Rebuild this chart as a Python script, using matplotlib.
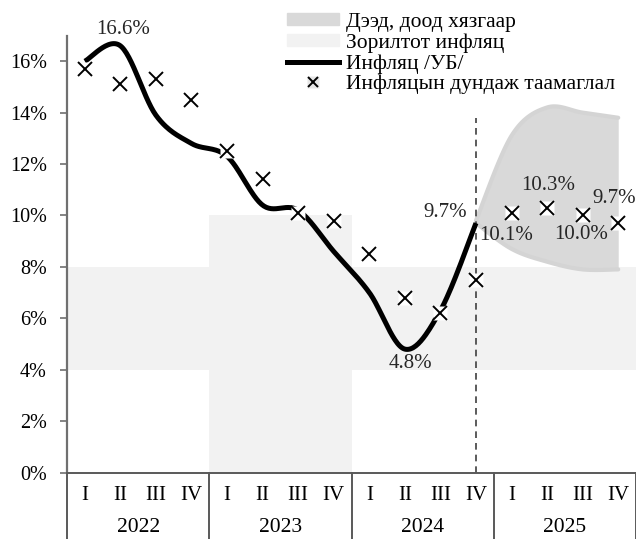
import numpy as np
import matplotlib
matplotlib.use("Agg")
import matplotlib.pyplot as plt
import matplotlib.transforms as mtransforms
from matplotlib.patches import Patch
from matplotlib.lines import Line2D

plt.rcParams["font.family"] = ["Liberation Serif", "DejaVu Serif"]
plt.rcParams["font.size"] = 14.5

# Data
years = ["2022", "2023", "2024", "2025"]
quarters = ["I", "II", "III", "IV"]
inflation_ub = [16.0, 16.6, 13.9, 12.8, 12.3, 10.4, 10.2, 8.6, 7.0, 4.8, 6.3, 9.7]
forecast_avg = [15.7, 15.1, 15.3, 14.5, 12.5, 11.4, 10.1, 9.8, 8.5, 6.8, 6.2, 7.5,
                10.1, 10.3, 10.0, 9.7]
band_x = [11, 12, 13, 14, 15]
band_upper = [9.8, 13.1, 14.2, 14.0, 13.8]
band_lower = [9.7, 8.7, 8.2, 7.9, 7.9]
target_low = [4, 0, 4, 4]
target_high = [8, 10, 8, 8]

# (index, value, text, dx, dy) data labels, offsets in points
labels = [(1, 16.6, "16.6%", 2, 12), (11, 9.7, "9.7%", -22, 8), (9, 4.8, "4.8%", 4, -10),
          (12, 10.1, "10.1%", -4, -16), (13, 10.3, "10.3%", 1, 16),
          (14, 10.0, "10.0%", -1, -14), (15, 9.7, "9.7%", -3, 18)]


def smooth(xs, ys, n=30):
    # Excel-like smoothed line (cubic Bezier through points)
    xs = np.asarray(xs, float)
    ys = np.asarray(ys, float)
    px = np.concatenate([[xs[0]], xs, [xs[-1]]])
    py = np.concatenate([[ys[0]], ys, [ys[-1]]])
    ox, oy = [], []
    t = np.linspace(0, 1, n)
    for i in range(1, len(px) - 2):
        p0 = np.array([px[i], py[i]])
        p3 = np.array([px[i + 1], py[i + 1]])
        c1 = p0 + (p3 - np.array([px[i - 1], py[i - 1]])) / 6
        c2 = p3 - (np.array([px[i + 2], py[i + 2]]) - p0) / 6
        b = ((1 - t) ** 3)[:, None] * p0 + (3 * (1 - t) ** 2 * t)[:, None] * c1 \
            + (3 * (1 - t) * t ** 2)[:, None] * c2 + (t ** 3)[:, None] * p3
        ox.extend(b[:, 0])
        oy.extend(b[:, 1])
    return np.array(ox), np.array(oy)


fig = plt.figure(figsize=(6.36, 5.39), dpi=100)
ax = fig.add_axes([67 / 636, 66.5 / 539, 569 / 636, 437 / 539])
ax.set_xlim(-0.5, 15.5)
ax.set_ylim(0, 17)

# target band per year
for i in range(len(years)):
    ax.fill_between([i * 4 - 0.5, i * 4 + 3.5], target_low[i], target_high[i],
                    color="#f2f2f2", lw=0, zorder=0)

# upper / lower limits
ux, uy = smooth(band_x, band_upper)
lx, ly = smooth(band_x, band_lower)
ax.fill_between(ux, uy, ly, color="#d9d9d9", lw=0, zorder=1)
ax.plot(ux, uy, color="#d4d4d4", lw=3, zorder=1, solid_capstyle="round")
ax.plot(lx, ly, color="#d4d4d4", lw=3, zorder=1, solid_capstyle="round")

# inflation line
ix, iy = smooth(range(len(inflation_ub)), inflation_ub)
ax.plot(ix, iy, color="black", lw=3.6, zorder=3, solid_capstyle="butt")

# forecast markers
xq = np.arange(len(forecast_avg))
ax.plot(xq, forecast_avg, ls="none", marker="s", ms=10, mfc="white", mec="none", zorder=4)
ax.plot(xq, forecast_avg, ls="none", marker="x", ms=10, mew=1.4, color="black", zorder=5)

# dashed separator at last actual
ax.plot([11, 11], [0, 13.8], color="#404040", lw=1.2, ls=(0, (4, 3)), zorder=2)

for i, v, t, dx, dy in labels:
    ax.annotate(t, (i, v), xytext=(dx, dy), textcoords="offset points",
                ha="center", va="center", fontsize=15, color="#262626",
                annotation_clip=False, zorder=6)

# axes styling
for s in ["top", "right"]:
    ax.spines[s].set_visible(False)
ax.spines["left"].set_color("#707070")
ax.spines["left"].set_linewidth(1.6)
ax.spines["bottom"].set_color("#595959")
ax.spines["bottom"].set_linewidth(1.4)
ax.set_yticks(range(0, 17, 2))
ax.set_yticklabels([f"{v}%" for v in range(0, 17, 2)])
ax.tick_params(axis="y", length=5, width=1.2, color="#707070", pad=9.4)
ax.set_xticks(range(16))
ax.set_xticklabels(quarters * 4, fontsize=15)
ax.tick_params(axis="x", length=0, pad=10)

# year labels and separators below the axis
trans = mtransforms.blended_transform_factory(ax.transData, ax.transAxes)
for i, yr in enumerate(years):
    ax.text(i * 4 + 1.5, -0.125, yr, transform=trans, ha="center", va="center", fontsize=15.5)
for b in [-0.5, 3.5, 7.5, 11.5, 15.5]:
    ax.plot([b, b], [0, -0.16], transform=trans, color="#595959", lw=1.4, clip_on=False)

handles = [Patch(color="#d9d9d9"), Patch(color="#f2f2f2"),
           Line2D([], [], color="black", lw=3.6),
           (Line2D([], [], ls="none", marker="s", ms=8, mfc="#e6e6e6", mec="none"),
            Line2D([], [], ls="none", marker="x", ms=7, mew=1.4, color="black"))]
names = ["Дээд, доод хязгаар", "Зорилтот инфляц", "Инфляц /УБ/", "Инфляцын дундаж таамаглал"]
fig.legend(handles, names, loc="upper left", bbox_to_anchor=(287 / 636, 1 - 13 / 539),
           frameon=False, fontsize=15.5, handlelength=2.4, handleheight=0.5,
           handletextpad=0.33, labelspacing=0.06, borderpad=0, borderaxespad=0)

fig.savefig("out.png", dpi=100)
